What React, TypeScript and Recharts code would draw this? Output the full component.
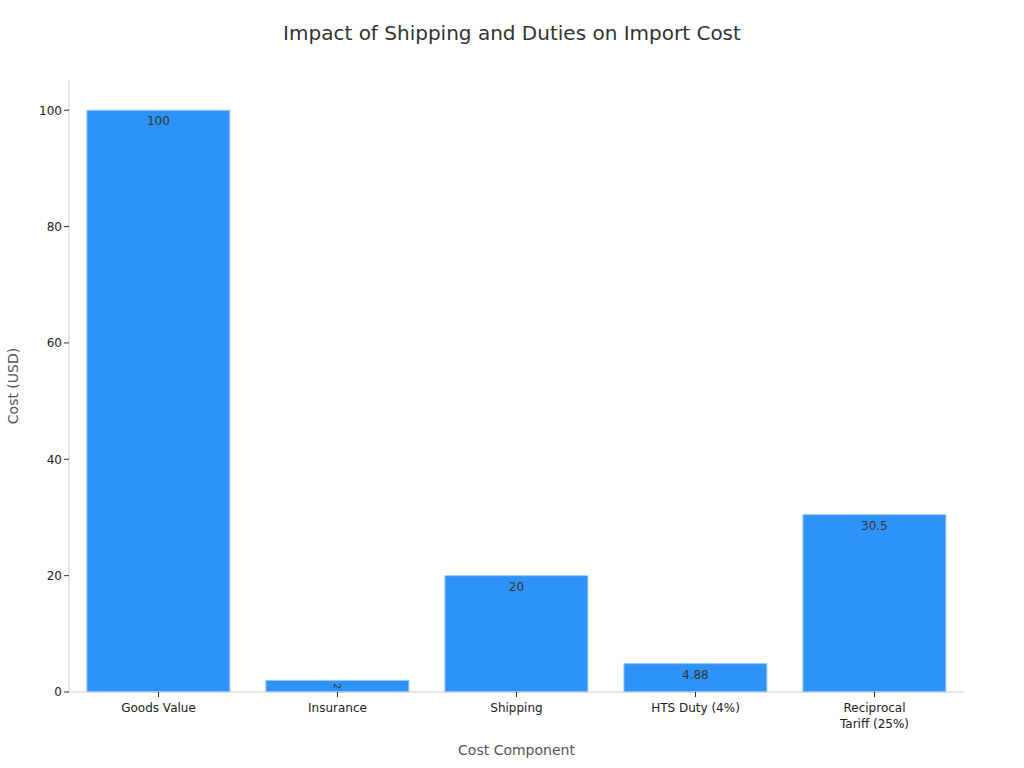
import { BarChart, Bar, XAxis, YAxis, LabelList } from 'recharts'

const categories = ['Goods Value', 'Insurance', 'Shipping', 'HTS Duty (4%)', 'Reciprocal Tariff (25%)']
const costs = [100, 2, 20, 4.88, 30.5]
const yTicks = [0, 20, 40, 60, 80, 100]

const data = categories.map((name, i) => ({ name, cost: costs[i] }))

const FONT = '"DejaVu Sans", sans-serif'

// wraps long category names onto two lines
function CategoryTick(props: any) {
  const { x, y, payload } = props
  const words = String(payload.value).split(' ')
  const lines = payload.value.length > 15 ? [words[0], words.slice(1).join(' ')] : [payload.value]
  return (
    <text x={x} y={y + 4} textAnchor="middle" fontSize={12} fill="#222" fontFamily={FONT}>
      {lines.map((l, i) => (
        <tspan key={i} x={x} dy={i === 0 ? 9 : 16}>
          {l}
        </tspan>
      ))}
    </text>
  )
}

// value label inside the bar top; rotated when the bar is too short
function ValueLabel(props: any) {
  const { x, y, width, height, value } = props
  const cx = x + width / 2
  if (height < 16) {
    return (
      <text
        x={cx}
        y={y + height / 2}
        textAnchor="middle"
        dominantBaseline="central"
        fontSize={9}
        fill="#333"
        fontFamily={FONT}
        transform={`rotate(90 ${cx} ${y + height / 2})`}
      >
        {value}
      </text>
    )
  }
  return (
    <text x={cx} y={y + 11} textAnchor="middle" dominantBaseline="central" fontSize={12} fill="#333" fontFamily={FONT}>
      {value}
    </text>
  )
}

export default function App() {
  return (
    <div style={{ position: 'absolute', left: 0, top: 0, width: 1024, height: 768, background: '#fff', fontFamily: FONT }}>
      <div
        style={{
          position: 'absolute',
          top: 21,
          left: 0,
          width: 1024,
          textAlign: 'center',
          fontSize: 20,
          color: '#333',
        }}
      >
        Impact of Shipping and Duties on Import Cost
      </div>
      <BarChart
        width={1024}
        height={768}
        data={data}
        margin={{ top: 80, right: 60, bottom: 0, left: 0 }}
        barCategoryGap="10%"
      >
        <XAxis
          dataKey="name"
          height={76}
          interval={0}
          tick={<CategoryTick />}
          tickSize={5}
          axisLine={{ stroke: '#ccc' }}
          tickLine={{ stroke: '#333' }}
          label={{
            value: 'Cost Component',
            position: 'insideBottom',
            offset: 13,
            style: { fontSize: 14, fill: '#555', fontFamily: FONT },
          }}
        />
        <YAxis
          width={69}
          domain={[0, 105.2]}
          ticks={yTicks}
          tickSize={5}
          axisLine={{ stroke: '#ccc' }}
          tickLine={{ stroke: '#333' }}
          tick={{ fontSize: 12, fill: '#222', fontFamily: FONT }}
          label={{
            value: 'Cost (USD)',
            angle: -90,
            position: 'insideLeft',
            offset: 13,
            style: { fontSize: 14, fill: '#555', fontFamily: FONT, textAnchor: 'middle' },
          }}
        />
        <Bar dataKey="cost" fill="#2E93F9" stroke="#9ccbf7" strokeWidth={1} isAnimationActive={false}>
          <LabelList dataKey="cost" content={<ValueLabel />} />
        </Bar>
      </BarChart>
    </div>
  )
}
